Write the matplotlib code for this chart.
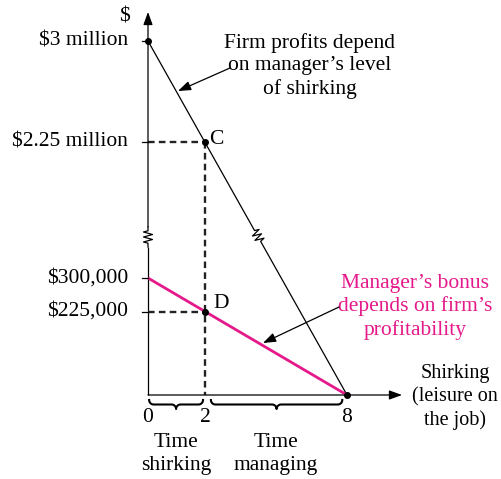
import numpy as np
import matplotlib.pyplot as plt

plt.rcParams['font.family'] = ['Liberation Serif', 'DejaVu Serif']

# shirking (hours) and dollar values used in the diagram
shirk_ticks = [0, 2, 8]
shirk_labels = ['0', '2', '8']
profit_x = [0, 8]
profit_y = [3000000, 0]
bonus_x = [0, 8]
bonus_y = [300000, 0]
point_c = (2, 2250000)
point_d = (2, 225000)
dollar_ticks = [3000000, 2250000, 300000, 225000]
dollar_labels = ['$3 million', '$2.25 million', '$300,000', '$225,000']

MAGENTA = '#E5198A'

# the axes are schematic: both scales are piecewise, with a break on the $ axis
XK = [-8, 0, 2, 8, 20]
XP = [-228, 0, 57, 199, 483]
YK = [-1e6, 0, 225000, 300000, 2250000, 3000000, 5000000]
YP = [-390, 0, 83.5, 117, 252.6, 354, 624.4]

def fx(x):
    return np.interp(x, XK, XP)

def ix(p):
    return np.interp(p, XP, XK)

def fy(y):
    return np.interp(y, YK, YP)

def iy(p):
    return np.interp(p, YP, YK)

W, H = 502, 479
X0, Y0 = 148, 395  # origin, pixels from top-left

fig = plt.figure(figsize=(W / 100, H / 100), dpi=100)
ax = fig.add_axes([0, 0, 1, 1])
ax.set_xscale('function', functions=(fx, ix))
ax.set_yscale('function', functions=(fy, iy))
ax.set_xlim(ix(-X0), ix(W - X0))
ax.set_ylim(iy(Y0 - H), iy(Y0))
ax.axis('off')


def pix(px, py):
    """top-left pixel position -> data coordinates"""
    return float(ix(px - X0)), float(iy(Y0 - py))


def disp(x, y):
    return ax.transData.transform((x, y))


def to_data(pts):
    return ax.transData.inverted().transform(np.asarray(pts))


def zigzag(c, u, L=10.0, a=4.5):
    u = np.asarray(u) / np.hypot(*u)
    n = np.array([-u[1], u[0]])
    t = np.array([-1, -0.62, -0.5, -0.25, 0.0, 0.25, 0.5, 0.62, 1]) * L
    k = np.array([0, 0, a, -a, a, -a, a, 0, 0])
    return c + np.outer(t, u) + np.outer(k, n)


def brace(xa, xb, top, r=4.5):
    xm = (xa + xb) / 2
    pts = []
    th = np.linspace(0, np.pi / 2, 12)
    # left curl
    pts += [(xa + r - r * np.cos(t), top - r * np.sin(t)) for t in th]
    # into the centre tip
    pts += [(xm - r + r * np.sin(t), top - 2 * r + r * np.cos(t)) for t in th]
    pts += [(xm + r - r * np.sin(t), top - 2 * r + r * np.cos(t)) for t in th[::-1]]
    # right curl
    pts += [(xb - r + r * np.cos(t), top - r * np.sin(t)) for t in th[::-1]]
    return np.array(pts)


fig.canvas.draw()

lw_axis = 0.9
arrow_kw = dict(arrowstyle='-|>,head_length=0.55,head_width=0.2', color='black',
                lw=lw_axis, mutation_scale=14, shrinkA=0, shrinkB=0)

# $ axis, broken between $300,000 and $2.25 million
o = disp(0, 0)
zc = np.array([o[0], H - 237])
zz = zigzag(zc, (0, 1))
seg = to_data([o, zz[0]])
ax.plot(seg[:, 0], seg[:, 1], color='black', lw=lw_axis, solid_capstyle='butt')
seg = to_data(zz)
ax.plot(seg[:, 0], seg[:, 1], color='black', lw=lw_axis)
ax.annotate('', xy=pix(X0, 12), xytext=to_data([zz[-1]])[0], arrowprops=arrow_kw)

# shirking axis
ax.annotate('', xy=pix(402, Y0), xytext=(0, 0), arrowprops=arrow_kw)

# firm profit line, with the same break mark
p0 = disp(profit_x[0], profit_y[0])
p1 = disp(profit_x[1], profit_y[1])
u = p1 - p0
s = (p0[1] - (H - 236)) / -u[1]
zz = zigzag(p0 + s * u, u)
line = to_data(np.vstack([p0, zz, p1]))
ax.plot(line[:, 0], line[:, 1], color='black', lw=0.9)

# manager's bonus line
ax.plot(bonus_x, bonus_y, color=MAGENTA, lw=2.0, solid_capstyle='butt')

# dashed guides for C and D
dash_kw = dict(color='#222222', lw=1.7, dashes=(2.8, 1.8))
ax.plot([0, point_c[0]], [point_c[1], point_c[1]], **dash_kw)
ax.plot([point_c[0], point_c[0]], [point_c[1], 0], **dash_kw)
ax.plot([0, point_d[0]], [point_d[1], point_d[1]], **dash_kw)

# small tick marks left of the $ axis
tick_left = ix(-6)
for v in dollar_ticks:
    ax.plot([tick_left, 0], [v, v], color='black', lw=lw_axis)

# points
ax.plot([0, point_c[0], point_d[0], profit_x[1]],
        [profit_y[0], point_c[1], point_d[1], profit_y[1]],
        'o', color='black', ms=4, zorder=5)

fs = 15.5
ls = 1.22
ax.text(*pix(124, 17), '$', fontsize=fs, ha='center', va='center')
for v, lab in zip(dollar_ticks, dollar_labels):
    ax.text(ix(-20), v, lab, fontsize=fs, ha='right', va='center')

ax.text(*pix(209, 140), 'C', fontsize=fs, ha='left', va='center')
ax.text(*pix(213, 304), 'D', fontsize=fs, ha='left', va='center')

for x, lab in zip(shirk_ticks, shirk_labels):
    ax.text(x, iy(Y0 - 418), lab, fontsize=fs, ha='center', va='center')

# braces under the shirking axis
for xa, xb in [(0.04, 1.93), (2.25, 7.8)]:
    a = disp(xa, 0)
    b = disp(xb, 0)
    pts = brace(a[0], b[0], H - 400)
    pts = to_data(pts)
    ax.plot(pts[:, 0], pts[:, 1], color='black', lw=1.5)

ax.text(*pix(176, 454), 'Time\nshirking', fontsize=fs, ha='center', va='center',
        linespacing=ls)
ax.text(*pix(276, 454), 'Time\nmanaging', fontsize=fs, ha='center', va='center',
        linespacing=ls)

ax.text(*pix(455, 397), 'Shirking\n(leisure on\nthe job)', fontsize=14.5,
        ha='center', va='center', linespacing=1.3)

ax.text(*pix(310, 66), 'Firm profits depend\non manager\u2019s level\nof shirking',
        fontsize=fs, ha='center', va='center', linespacing=ls)
ax.annotate('', xy=pix(178, 91), xytext=pix(230, 68), arrowprops=arrow_kw)

ax.text(*pix(415, 307), 'Manager\u2019s bonus\ndepends on firm\u2019s\nprofitability',
        fontsize=fs, ha='center', va='center', linespacing=ls, color=MAGENTA)
ax.annotate('', xy=pix(263, 343), xytext=pix(339, 307), arrowprops=arrow_kw)

fig.savefig('out.png', dpi=100)
